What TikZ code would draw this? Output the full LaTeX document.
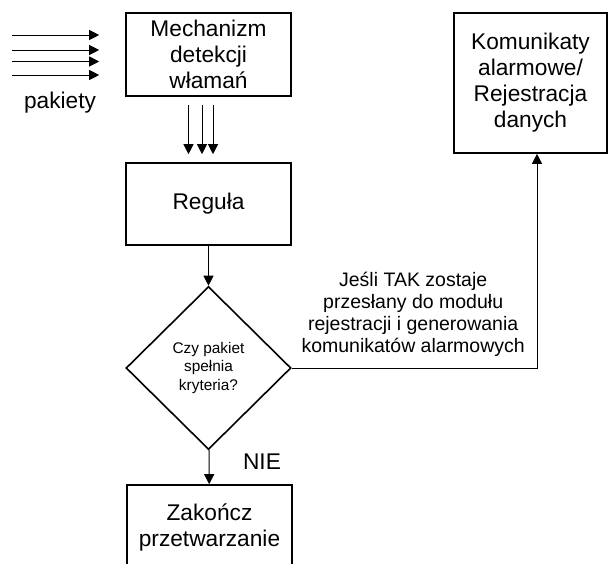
\documentclass[tikz,border=0pt]{standalone}
\usepackage{fontspec}
\setmainfont{Liberation Sans}
\usepackage{tikz}
\usetikzlibrary{arrows.meta,calc,positioning,shapes.geometric}

\begin{document}
\begin{tikzpicture}[x=1pt,y=-1pt,
  box/.style={draw,line width=1.6pt,minimum width=165pt,inner sep=0pt,align=center,font=\fontsize{22.7}{26}\selectfont},
  dec/.style={draw,diamond,line width=1.6pt,minimum width=165pt,minimum height=163pt,inner sep=0pt,align=center,font=\fontsize{15.4}{18.5}\selectfont},
  ar/.style={-{Triangle[length=10pt,width=10pt]},line width=1pt}]
  \useasboundingbox (0,0) rectangle (610,563);
  \node[box,minimum height=83pt] (mech) at (208.5,54.5) {Mechanizm\\detekcji\\włamań};
  \node[box,minimum height=82pt] (regula) at (208.5,204) {Reguła};
  \node[dec] (czy) at (208.5,368) {Czy pakiet\\spełnia\\kryteria?};
  \node[box,minimum height=84pt] (koniec) at (209.5,527) {Zakończ\\przetwarzanie};
  \node[box,minimum width=153pt,minimum height=140pt] (alarm) at (530.5,83) {Komunikaty\\alarmowe/\\Rejestracja\\danych};
  \node[font=\fontsize{22.7}{26}\selectfont] (pak) at (60,103) {pakiety};
  \node[font=\fontsize{22.7}{26}\selectfont] (nie) at (262,462) {NIE};
  % pakiety wchodza do mechanizmu
  \foreach \dy in {-19.5,-4.5,7,20.5} \draw[ar] ([shift={(-113,\dy)}]mech.west) -- ([shift={(-26,\dy)}]mech.west);
  \foreach \dx in {-20,-6.5,4.5} \draw[ar] ([shift={(\dx,8)}]mech.south) -- ([shift={(\dx,-8)}]regula.north);
  \draw[ar] (regula) -- (czy);
  \draw[ar] (czy) -- (koniec);
  \coordinate (rog) at ([xshift=6.5pt]alarm.south |- czy.east);
  \draw[ar] (czy.east) -- (rog) -- ([xshift=6.5pt]alarm.south);
  \node[align=center,inner sep=0pt,anchor=south east,font=\fontsize{19.5}{22}\selectfont] (tak) at ([shift={(-12,-11)}]rog) {Jeśli TAK zostaje\\przesłany do modułu\\rejestracji i generowania\\komunikatów alarmowych};
\end{tikzpicture}
\end{document}
